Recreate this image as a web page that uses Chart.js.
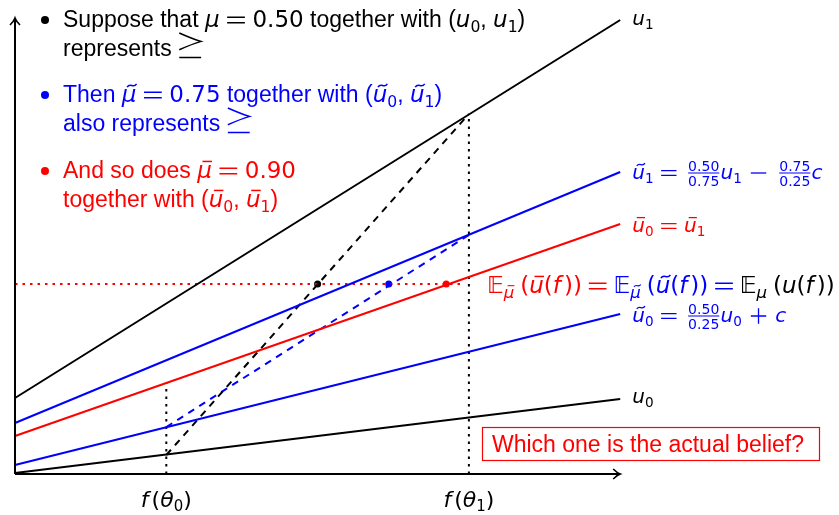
<!DOCTYPE html>
<html>
<head>
<meta charset="utf-8">
<script src="https://cdn.jsdelivr.net/npm/chart.js@4.4.1/dist/chart.umd.min.js"></script>
<style>
  body { margin: 0; background: #fff; }
  canvas { display: block; }
</style>
</head>
<body>
<canvas id="chart" width="839" height="515"></canvas>
<script>
// values (x: f, 0..4 = axis length; y: utility)
const xEnds = [0, 4];
const u1 = [0.76, 4.54];
const u0 = [0.01, 0.75];
const ut1 = [0.51, 3.02];   // u tilde 1
const ut0 = [0.09, 1.60];   // u tilde 0
const ubar = [0.38, 2.50];  // u bar 0 = u bar 1

const thetaX = [1, 3];          // f(theta0), f(theta1)
const blackDash = [0.19, 3.60]; // u0(theta0) -> u1(theta1)
const blueDash = [0.47, 2.39];  // ut0(theta0) -> ut1(theta1)
const vDotTop = [0.91, 3.60];
const eLevel = 1.9;
const eDotEnd = 2.97;
const ePointX = [2.0, 2.47, 2.85]; // black, blue, red

const BLUE = "#0000ff";
const RED = "#ff0000";
const TXT = '"Liberation Sans", "DejaVu Sans", sans-serif';
const MATH = '"DejaVu Sans", sans-serif';

function seg(xs, ys) {
  return xs.map((x, i) => ({ x: x, y: ys[i] }));
}

function lineDs(data, color, dash) {
  return {
    data: data,
    showLine: true,
    borderColor: color,
    borderWidth: 2,
    borderDash: dash || [],
    pointRadius: 0,
    fill: false,
  };
}

const DOT = [2.5, 5];

const datasets = [
  lineDs(seg(xEnds, u1), "#000"),
  lineDs(seg(xEnds, u0), "#000"),
  lineDs(seg(xEnds, ut1), BLUE),
  lineDs(seg(xEnds, ut0), BLUE),
  lineDs(seg(xEnds, ubar), RED),
  lineDs(seg(thetaX, blackDash), "#000", [7, 6]),
  lineDs(seg(thetaX, blueDash), BLUE, [7, 6]),
  lineDs(seg([thetaX[0], thetaX[0]], [0, vDotTop[0]]), "#000", DOT),
  lineDs(seg([thetaX[1], thetaX[1]], [0, vDotTop[1]]), "#000", DOT),
  lineDs(seg([0, eDotEnd], [eLevel, eLevel]), RED, DOT),
  {
    data: ePointX.map((x) => ({ x: x, y: eLevel })),
    showLine: false,
    pointRadius: 3.5,
    pointBackgroundColor: ["#000", BLUE, RED],
    pointBorderColor: ["#000", BLUE, RED],
    pointBorderWidth: 0,
  },
];

// tiny rich-text writer
// tokens: "text" | {m: italic math} | {n: math upright} | {sub} | {op} | {fr} | {bb} | {succ} | {c}
function rich(ctx, x, y, size, tokens, color, dry) {
  let cx = x;
  let col = color || "#000";
  ctx.textAlign = "left";
  ctx.textBaseline = "alphabetic";
  for (const raw of tokens) {
    const tk = typeof raw === "string" ? { t: raw } : raw;
    if (tk.c) col = tk.c;
    ctx.fillStyle = col;
    ctx.strokeStyle = col;

    if (tk.op) {
      const sp = (tk.sp || 0.33) * size;
      const w = 0.77 * size;
      const ax = y - 0.3 * size;
      const x0 = cx + sp;
      if (!dry) {
        ctx.lineWidth = Math.max(1.2, size * 0.065);
        ctx.beginPath();
        if (tk.op === "=") {
          ctx.moveTo(x0, ax - 0.12 * size);
          ctx.lineTo(x0 + w, ax - 0.12 * size);
          ctx.moveTo(x0, ax + 0.12 * size);
          ctx.lineTo(x0 + w, ax + 0.12 * size);
        } else {
          ctx.moveTo(x0, ax);
          ctx.lineTo(x0 + w, ax);
          if (tk.op === "+") {
            ctx.moveTo(x0 + w / 2, ax - w / 2);
            ctx.lineTo(x0 + w / 2, ax + w / 2);
          }
        }
        ctx.stroke();
      }
      cx += w + 2 * sp;
      continue;
    }

    if (tk.succ) {
      // \succeq drawn by hand
      const w = 0.95 * size;
      const x0 = cx + 0.33 * size;
      const top = y - 1.0 * size, bot = y - 0.27 * size, mid = (top + bot) / 2;
      const h = mid - top;
      if (!dry) {
        ctx.lineWidth = 1.5;
        ctx.beginPath();
        ctx.moveTo(x0, top);
        ctx.quadraticCurveTo(x0 + w * 0.6, mid - h * 0.3, x0 + w, mid);
        ctx.quadraticCurveTo(x0 + w * 0.6, mid + h * 0.3, x0, bot);
        ctx.moveTo(x0, y + 0.06 * size);
        ctx.lineTo(x0 + w, y + 0.06 * size);
        ctx.stroke();
      }
      cx = x0 + w;
      continue;
    }

    if (tk.fr) {
      const fs = size * 0.7;
      ctx.font = fs + "px " + MATH;
      const w = Math.max(ctx.measureText(tk.fr[0]).width, ctx.measureText(tk.fr[1]).width);
      const padL = size * 0.2, padR = size * 0.06;
      const ax = y - 0.3 * size;
      if (!dry) {
        ctx.textAlign = "center";
        ctx.fillText(tk.fr[0], cx + padL + w / 2, ax - size * 0.12);
        ctx.fillText(tk.fr[1], cx + padL + w / 2, ax + size * 0.12 + fs * 0.73);
        ctx.textAlign = "left";
        ctx.lineWidth = 1;
        ctx.beginPath();
        ctx.moveTo(cx + padL, ax);
        ctx.lineTo(cx + padL + w, ax);
        ctx.stroke();
      }
      cx += w + padL + padR;
      continue;
    }

    let txt, family, italic;
    if (tk.m !== undefined) { txt = tk.m; family = MATH; italic = true; }
    else if (tk.n !== undefined) { txt = tk.n; family = MATH; italic = false; }
    else if (tk.bb) { txt = "𝔼"; family = MATH; italic = false; }
    else { txt = tk.t; family = tk.sub ? MATH : TXT; italic = false; }
    const fs = tk.sub ? size * (tk.ss || 0.68) : size;
    const by = tk.sub ? y + size * 0.2 : y;
    ctx.font = (italic ? "italic " : "") + fs + "px " + family;
    const w = ctx.measureText(txt).width;
    if (!dry) {
      ctx.fillText(txt, cx, by);
      if (tk.acc) {
        const sl = italic ? fs * 0.1 : 0;
        const ay = by - fs * 0.72;
        const x0 = cx + w * 0.2 + sl;
        const x1 = cx + w * 0.85 + sl;
        ctx.lineWidth = Math.max(1, fs * 0.065);
        ctx.beginPath();
        if (tk.acc === "bar") {
          ctx.moveTo(x0, ay);
          ctx.lineTo(x1, ay);
        } else {
          const h = fs * 0.07;
          const ww = x1 - x0;
          ctx.moveTo(x0, ay + h);
          ctx.bezierCurveTo(x0 + ww * 0.35, ay - h * 2.2, x0 + ww * 0.65, ay + h * 2.2, x1, ay - h);
        }
        ctx.stroke();
      }
    }
    cx += w + (tk.k || 0);
  }
  return cx;
}

const annotations = {
  id: "annotations",
  afterDraw(chart) {
    const ctx = chart.ctx;
    const xs = chart.scales.x;
    const ys = chart.scales.y;
    const px = (v) => xs.getPixelForValue(v);
    const py = (v) => ys.getPixelForValue(v);
    ctx.save();

    // axes with arrow heads
    const ox = px(0), oy = py(0);
    const xe = px(4), ye = py(4.56);
    ctx.strokeStyle = "#000";
    ctx.lineWidth = 2;
    ctx.beginPath();
    ctx.moveTo(ox, oy);
    ctx.lineTo(xe, oy);
    ctx.moveTo(ox, oy);
    ctx.lineTo(ox, ye);
    ctx.stroke();
    ctx.lineWidth = 1.6;
    ctx.beginPath();
    ctx.moveTo(xe - 7, oy - 5);
    ctx.quadraticCurveTo(xe - 3, oy - 1, xe, oy);
    ctx.quadraticCurveTo(xe - 3, oy + 1, xe - 7, oy + 5);
    ctx.moveTo(ox - 5, ye + 7);
    ctx.quadraticCurveTo(ox - 1, ye + 3, ox, ye);
    ctx.quadraticCurveTo(ox + 1, ye + 3, ox + 5, ye + 7);
    ctx.stroke();

    // bullet list
    const S = 23;
    const bullets = [
      ["#000", [27, 56], [
        ["Suppose that ", { m: "μ" }, { op: "=" }, { n: "0.50" }, " together with (", { m: "u" }, { t: "0", sub: 1 }, ", ", { m: "u" }, { t: "1", sub: 1 }, ")"],
        ["represents", { succ: 1 }],
      ]],
      [BLUE, [102, 131], [
        ["Then ", { m: "μ", acc: "tilde" }, { op: "=" }, { n: "0.75" }, " together with (", { m: "u", acc: "tilde" }, { t: "0", sub: 1 }, ", ", { m: "u", acc: "tilde" }, { t: "1", sub: 1 }, ")"],
        ["also represents", { succ: 1 }],
      ]],
      [RED, [178, 207], [
        ["And so does ", { m: "μ", acc: "bar" }, { op: "=" }, { n: "0.90" }],
        ["together with (", { m: "u", acc: "bar" }, { t: "0", sub: 1 }, ", ", { m: "u", acc: "bar" }, { t: "1", sub: 1 }, ")"],
      ]],
    ];
    bullets.forEach(([col, ys2, lines]) => {
      ctx.fillStyle = col;
      ctx.beginPath();
      ctx.arc(45, ys2[0] - 7, 4, 0, Math.PI * 2);
      ctx.fill();
      lines.forEach((ln, k) => rich(ctx, 63, ys2[k], S, ln, col));
    });

    // line-end labels
    const L = 20;
    const lx = px(4) + 12;
    const EQ = { op: "=", sp: 0.38 };
    rich(ctx, lx, py(u1[1]) + 5, L, [{ m: "u" }, { t: "1", sub: 1 }], "#000");
    rich(ctx, lx, py(ut1[1]) + 7, L, [
      { m: "u", acc: "tilde" }, { t: "1", sub: 1 }, EQ, { fr: ["0.50", "0.75"] },
      { m: "u" }, { t: "1", sub: 1 }, { op: "−", sp: 0.45 }, { fr: ["0.75", "0.25"] }, { m: "c" },
    ], BLUE);
    rich(ctx, lx, py(ubar[1]) + 8, L, [
      { m: "u", acc: "bar" }, { t: "0", sub: 1 }, EQ, { m: "u", acc: "bar" }, { t: "1", sub: 1 },
    ], RED);
    rich(ctx, lx, py(ut0[1]) + 8, L, [
      { m: "u", acc: "tilde" }, { t: "0", sub: 1 }, EQ, { fr: ["0.50", "0.25"] },
      { m: "u" }, { t: "0", sub: 1 }, { op: "+", sp: 0.45 }, { m: "c" },
    ], BLUE);
    rich(ctx, lx, py(u0[1]) + 4, L, [{ m: "u" }, { t: "0", sub: 1 }], "#000");

    // expectation equality
    const P = (s) => ({ n: s });
    const SUBMU = { sub: 1, ss: 0.72, k: 6 };
    rich(ctx, 487, py(eLevel) + 9, S, [
      { bb: 1 }, Object.assign({ m: "μ", acc: "bar" }, SUBMU), P("("), { m: "u", acc: "bar" }, P("("), { m: "f", k: 3 }, P("))"), { op: "=", sp: 0.3 },
      { c: BLUE, bb: 1 }, Object.assign({ m: "μ", acc: "tilde" }, SUBMU), P("("), { m: "u", acc: "tilde" }, P("("), { m: "f", k: 3 }, P("))"), { op: "=", sp: 0.3 },
      { c: "#000", bb: 1 }, Object.assign({ m: "μ" }, SUBMU), P("("), { m: "u" }, P("("), { m: "f", k: 3 }, P("))"),
    ], RED);

    // question box
    ctx.strokeStyle = RED;
    ctx.lineWidth = 1.2;
    ctx.strokeRect(482.5, 427.5, 337, 33);
    rich(ctx, 492, 452, S, ["Which one is the actual belief?"], RED);

    // x tick labels
    const T = 22;
    thetaX.forEach((v, k) => {
      const tokens = [{ m: "f", k: 3 }, P("("), { m: "θ" }, { t: String(k), sub: 1 }, P(")")];
      const w = rich(ctx, 0, 0, T, tokens, "#000", true);
      rich(ctx, px(v) - w / 2, 507, T, tokens, "#000");
    });

    ctx.restore();
  },
};

new Chart(document.getElementById("chart"), {
  type: "scatter",
  data: { datasets: datasets },
  options: {
    responsive: false,
    animation: false,
    devicePixelRatio: 1,
    layout: { padding: 0, autoPadding: false },
    plugins: { legend: { display: false }, tooltip: { enabled: false } },
    scales: {
      x: { type: "linear", display: false, min: -15 / 151.3, max: 824 / 151.3 },
      y: { type: "linear", display: false, min: -0.41, max: 4.74 },
    },
  },
  plugins: [annotations],
});
</script>
</body>
</html>
